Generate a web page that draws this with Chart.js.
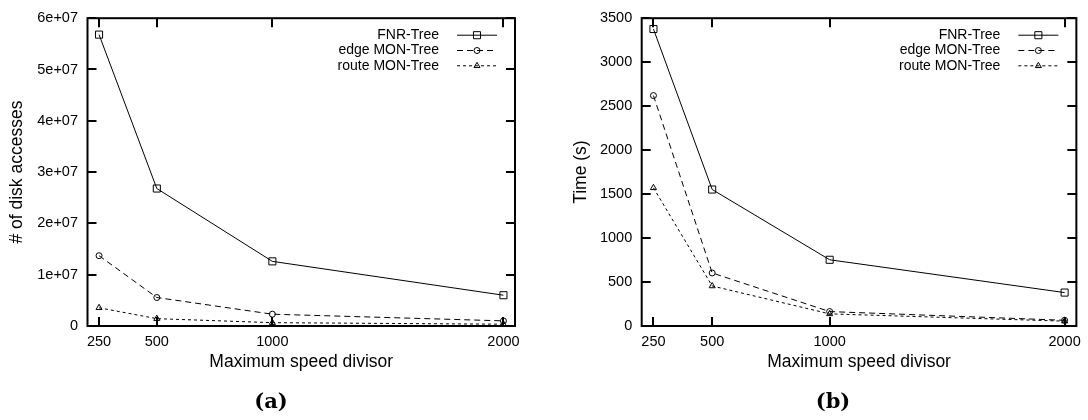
<!DOCTYPE html>
<html>
<head>
<meta charset="utf-8">
<script src="https://cdn.jsdelivr.net/npm/chart.js@4/dist/chart.umd.min.js"></script>
<style>
  html, body { margin: 0; padding: 0; background: #fff; }
  #wrap { position: relative; width: 1088px; height: 420px; overflow: hidden; }
  .panel { position: absolute; top: 0; width: 544px; height: 420px; }
  .sub { position: absolute; top: 388px; width: 80px; text-align: center; line-height: 24px;
         font: bold 21px "DejaVu Serif", serif; color: #000; }
</style>
</head>
<body>
<div id="wrap">
  <div class="panel" style="left:0"><canvas id="chart-a" width="544" height="420"></canvas></div>
  <div class="panel" style="left:544px"><canvas id="chart-b" width="544" height="420"></canvas></div>
  <div class="sub" style="left:231px">(a)</div>
  <div class="sub" style="left:793px">(b)</div>
</div>
<script>
const speedDivisors = [250, 500, 1000, 2000];
const seriesNames = ["FNR-Tree", "edge MON-Tree", "route MON-Tree"];

// (a) disk accesses
const accessesFNR = [56800000, 26800000, 12600000, 6000000];
const accessesEdge = [13700000, 5550000, 2300000, 1000000];
const accessesRoute = [3550000, 1430000, 650000, 350000];

// (b) time in seconds
const timeFNR = [3377, 1552, 753, 380];
const timeEdge = [2620, 603, 164, 65];
const timeRoute = [1571, 455, 138, 55];

const xTickValues = [250, 500, 1000, 2000];
const xTickLabels = ["250", "500", "1000", "2000"];
const accessTickValues = [0, 1e7, 2e7, 3e7, 4e7, 5e7, 6e7];
const accessTickLabels = ["0", "1e+07", "2e+07", "3e+07", "4e+07", "5e+07", "6e+07"];
const timeTickValues = [0, 500, 1000, 1500, 2000, 2500, 3000, 3500];
const timeTickLabels = ["0", "500", "1000", "1500", "2000", "2500", "3000", "3500"];

const seriesStyles = [
  { dash: [], pointStyle: "rect", radius: 5 },
  { dash: [6, 4], pointStyle: "circle", radius: 3 },
  { dash: [3, 3], pointStyle: "triangle", radius: 3.5 }
];

const FONT = "'Liberation Sans', Arial, sans-serif";
const TICK = 9;
Chart.defaults.font.family = FONT;
Chart.defaults.color = "#000";

function drawMarker(ctx, style, radius, x, y) {
  ctx.beginPath();
  if (style === "rect") {
    const s = radius * Math.SQRT1_2;
    ctx.rect(x - s, y - s, 2 * s, 2 * s);
  } else if (style === "circle") {
    ctx.arc(x, y, radius, 0, Math.PI * 2);
  } else {
    const h = radius * Math.sqrt(3) / 2;
    ctx.moveTo(x, y - radius);
    ctx.lineTo(x + h, y + radius / 2);
    ctx.lineTo(x - h, y + radius / 2);
    ctx.closePath();
  }
  ctx.stroke();
}

// gnuplot-like frame with inward ticks on all four sides
const framePlugin = {
  id: "frame",
  afterDatasetsDraw(chart) {
    const { ctx, chartArea: a, scales } = chart;
    ctx.save();
    ctx.strokeStyle = "#000";
    ctx.lineWidth = 2;
    ctx.beginPath();
    scales.x.ticks.forEach(t => {
      const px = Math.round(scales.x.getPixelForValue(t.value));
      ctx.moveTo(px, a.bottom); ctx.lineTo(px, a.bottom - TICK);
      ctx.moveTo(px, a.top); ctx.lineTo(px, a.top + TICK);
    });
    scales.y.ticks.forEach(t => {
      const py = Math.round(scales.y.getPixelForValue(t.value));
      ctx.moveTo(a.left, py); ctx.lineTo(a.left + TICK, py);
      ctx.moveTo(a.right, py); ctx.lineTo(a.right - TICK, py);
    });
    ctx.stroke();
    ctx.strokeRect(a.left, a.top, a.width, a.height);
    ctx.restore();
  }
};

// key in the top right corner: label, then line sample with marker
const keyPlugin = {
  id: "cornerKey",
  afterDraw(chart) {
    const { ctx, chartArea: a } = chart;
    ctx.save();
    ctx.font = "14px " + FONT;
    ctx.textAlign = "right";
    ctx.textBaseline = "middle";
    chart.data.datasets.forEach((ds, i) => {
      const y = a.top + 17 + i * 15.3;
      ctx.fillStyle = "#000";
      ctx.fillText(ds.label, a.right - 76, y);
      ctx.strokeStyle = ds.borderColor;
      ctx.lineWidth = 1;
      ctx.setLineDash(ds.borderDash);
      ctx.beginPath();
      ctx.moveTo(a.right - 58, y);
      ctx.lineTo(a.right - 18, y);
      ctx.stroke();
      ctx.setLineDash([]);
      drawMarker(ctx, ds.pointStyle, ds.pointRadius, a.right - 38, y);
    });
    ctx.restore();
  }
};

function makeDatasets(seriesValues) {
  return seriesValues.map((values, i) => ({
    label: seriesNames[i],
    data: speedDivisors.map((d, j) => ({ x: d, y: values[j] })),
    borderColor: "#000",
    borderWidth: 1,
    borderDash: seriesStyles[i].dash,
    pointStyle: seriesStyles[i].pointStyle,
    pointRadius: seriesStyles[i].radius,
    pointBorderWidth: 1,
    pointBorderColor: "#000",
    pointBackgroundColor: "rgba(0,0,0,0)",
    tension: 0
  }));
}

function buildChart(id, opts) {
  return new Chart(document.getElementById(id), {
    type: "line",
    data: { datasets: makeDatasets(opts.series) },
    options: {
      responsive: false,
      animation: false,
      events: [],
      layout: { padding: { top: 12, right: opts.padRight, bottom: 31, left: 0 } },
      plugins: { legend: { display: false }, tooltip: { enabled: false } },
      scales: {
        x: {
          type: "linear",
          min: 200,
          max: 2050,
          grid: { display: false, drawTicks: false },
          border: { display: false },
          afterBuildTicks: s => { s.ticks = xTickValues.map(v => ({ value: v })); },
          afterFit: s => { s.height = 63; },
          ticks: {
            autoSkip: false,
            maxRotation: 0,
            padding: 7,
            font: { size: 14.5 },
            callback: v => xTickLabels[xTickValues.indexOf(v)]
          },
          title: {
            display: true,
            text: "Maximum speed divisor",
            font: { size: 17.5 },
            padding: { top: 0, bottom: 16.8 }
          }
        },
        y: {
          type: "linear",
          min: 0,
          max: opts.yMax,
          grid: { display: false, drawTicks: false },
          border: { display: false },
          afterBuildTicks: s => { s.ticks = opts.yTicks.map(v => ({ value: v })); },
          afterFit: s => { s.width = opts.yWidth; },
          ticks: {
            padding: 9.5,
            font: { size: 14.5 },
            callback: v => opts.yLabels[opts.yTicks.indexOf(v)]
          },
          title: {
            display: true,
            text: opts.yTitle,
            font: { size: 17.5 },
            padding: { top: opts.yTitlePad, bottom: 0 }
          }
        }
      }
    },
    plugins: [framePlugin, keyPlugin]
  });
}

buildChart("chart-a", {
  series: [accessesFNR, accessesEdge, accessesRoute],
  yMax: 6e7,
  yTicks: accessTickValues,
  yLabels: accessTickLabels,
  yTitle: "# of disk accesses",
  yWidth: 87.5,
  yTitlePad: 6.5,
  padRight: 29
});

buildChart("chart-b", {
  series: [timeFNR, timeEdge, timeRoute],
  yMax: 3500,
  yTicks: timeTickValues,
  yLabels: timeTickLabels,
  yTitle: "Time (s)",
  yWidth: 97.7,
  yTitlePad: 26.5,
  padRight: 9.5
});
</script>
</body>
</html>
